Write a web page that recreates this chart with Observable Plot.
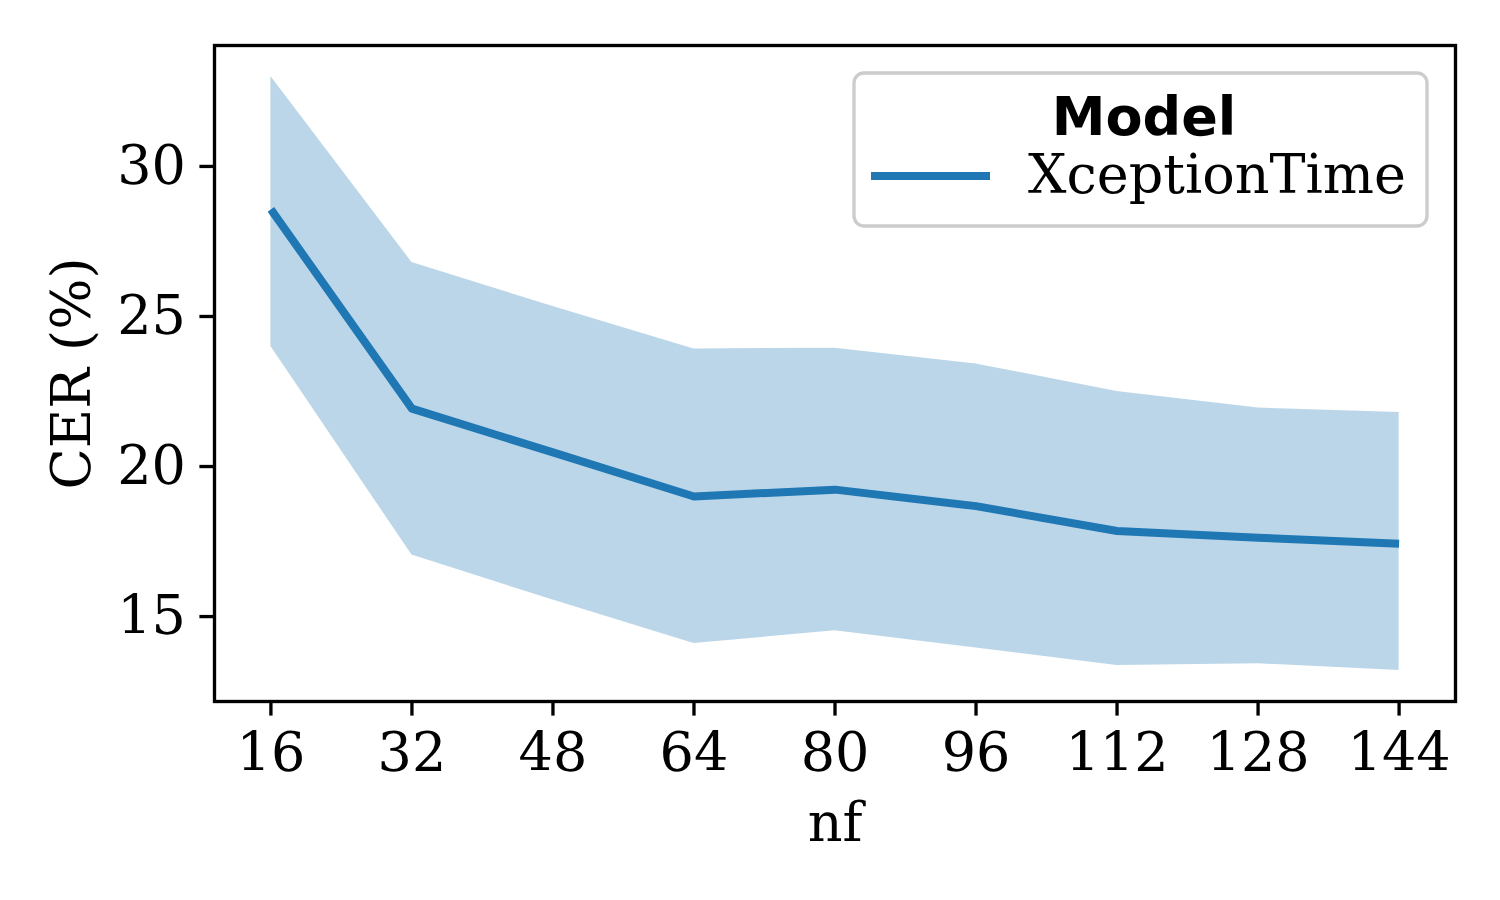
<!DOCTYPE html>
<html>
<head>
<meta charset="utf-8">
<script src="https://cdn.jsdelivr.net/npm/d3@7"></script>
<script src="https://cdn.jsdelivr.net/npm/@observablehq/plot@0.6"></script>
<style>
  html, body { margin: 0; padding: 0; background: #fff; }
  #chart { width: 1500px; height: 900px; }
</style>
</head>
<body>
<div id="chart"></div>
<script>
const nf = [16, 32, 48, 64, 80, 96, 112, 128, 144];
const cer = [28.57, 21.93, 20.47, 19.0, 19.23, 18.68, 17.85, 17.63, 17.43];
const ciLow = [24.0, 17.05, 15.55, 14.1, 14.53, 13.95, 13.37, 13.43, 13.2];
const ciHigh = [33.0, 26.8, 25.33, 23.92, 23.94, 23.42, 22.5, 21.95, 21.8];
const xTicks = [16, 32, 48, 64, 80, 96, 112, 128, 144];
const yTicks = [15, 20, 25, 30];
const seriesName = "XceptionTime";
const legendTitle = "Model";
const xLabel = "nf";
const yLabel = "CER (%)";

const data = nf.map((d, i) => ({nf: d, cer: cer[i], lo: ciLow[i], hi: ciHigh[i]}));
const blue = "#1f77b4";
const fs = 54;
const lw = 3.33;
const lineW = 8;

const chart = Plot.plot({
  width: 1500,
  height: 900,
  marginLeft: 214,
  marginRight: 45,
  marginTop: 45,
  marginBottom: 199,
  style: {fontFamily: "'DejaVu Serif', serif", fontSize: fs + "px", color: "black", background: "white"},
  x: {domain: [9.6, 150.4]},
  y: {domain: [12.17, 34.03]},
  marks: [
    Plot.areaY(data, {x: "nf", y1: "lo", y2: "hi", fill: blue, fillOpacity: 0.3}),
    Plot.lineY(data, {x: "nf", y: "cer", stroke: blue, strokeWidth: lineW, strokeLinecap: "butt"}),
    Plot.frame({stroke: "black", strokeWidth: lw}),
    Plot.axisX({ticks: xTicks, tickSize: 14.6, tickPadding: 17, fontSize: fs, strokeWidth: lw, label: null, tickFormat: d => String(d)}),
    Plot.axisY({ticks: yTicks, tickSize: 14.6, tickPadding: 14, fontSize: fs, strokeWidth: lw, label: null, tickFormat: d => String(d)}),
    Plot.text([xLabel], {text: d => d, frameAnchor: "bottom", dy: 139, lineAnchor: "bottom", fontSize: fs, fill: "black"}),
    Plot.text([yLabel], {text: d => d, frameAnchor: "left", dx: -142, rotate: -90, textAnchor: "middle", lineAnchor: "middle", fontSize: fs, fill: "black"})
  ]
});
document.getElementById("chart").appendChild(chart);

// Legend
const svg = d3.select(chart);
const g = svg.append("g");
g.append("rect").attr("x", 854).attr("y", 73).attr("width", 573).attr("height", 153)
  .attr("rx", 10).attr("fill", "white").attr("fill-opacity", 0.8)
  .attr("stroke", "#cccccc").attr("stroke-width", lw);
g.append("text").attr("x", 1144).attr("y", 135).attr("text-anchor", "middle")
  .attr("font-family", "'DejaVu Sans', sans-serif").attr("font-weight", "bold")
  .attr("font-size", fs).attr("fill", "black").text(legendTitle);
g.append("line").attr("x1", 871).attr("x2", 990).attr("y1", 176).attr("y2", 176)
  .attr("stroke", blue).attr("stroke-width", lineW);
g.append("text").attr("x", 1028).attr("y", 193).attr("text-anchor", "start")
  .attr("font-family", "'DejaVu Serif', serif")
  .attr("font-size", fs).attr("fill", "black").text(seriesName);
</script>
</body>
</html>
